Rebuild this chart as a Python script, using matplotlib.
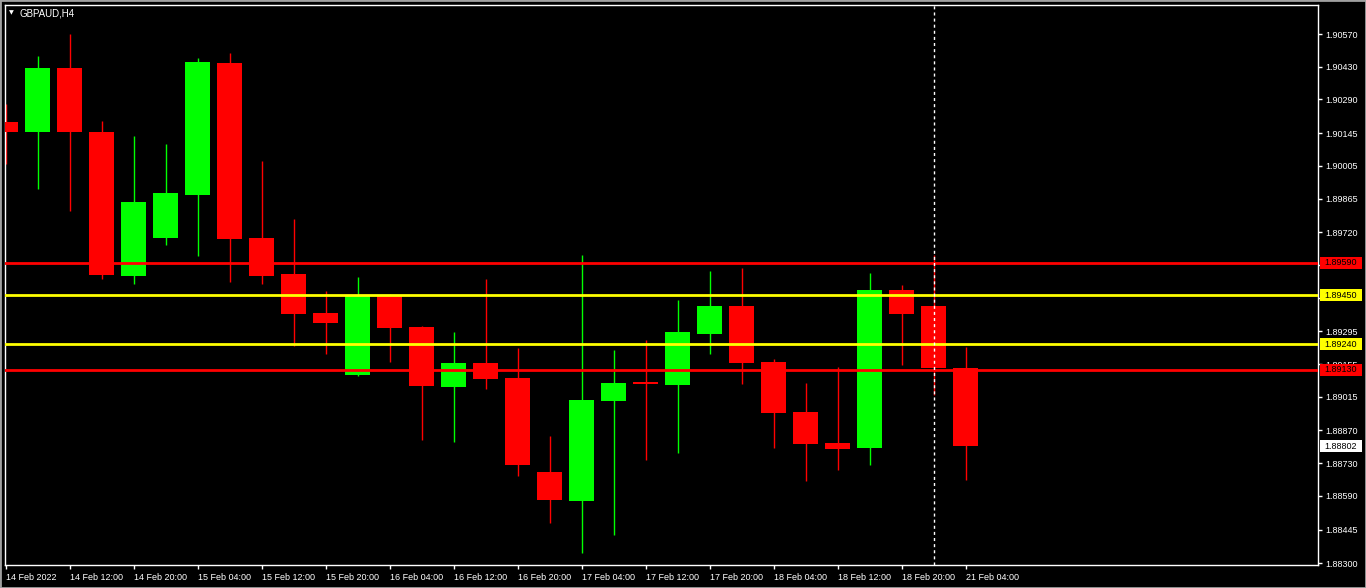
import numpy as np
import matplotlib.pyplot as plt
from matplotlib.patches import Rectangle
from matplotlib.transforms import IdentityTransform

# GBPAUD H4 candles, 14 Feb 04:00 .. 21 Feb 04:00
opens = [1.90193, 1.90150, 1.90425, 1.90150, 1.89533, 1.89696, 1.89880, 1.90446,
         1.89696, 1.89541, 1.89374, 1.89108, 1.89451, 1.89314, 1.89056, 1.89159,
         1.89095, 1.88692, 1.88567, 1.88996, 1.89078, 1.89065, 1.89284, 1.89404,
         1.89164, 1.88949, 1.88816, 1.88795, 1.89472, 1.89404, 1.89138]
highs = [1.90270, 1.90476, 1.90571, 1.90197, 1.90133, 1.90099, 1.90468, 1.90489,
         1.90026, 1.89777, 1.89468, 1.89528, 1.89455, 1.89318, 1.89292, 1.89520,
         1.89224, 1.88846, 1.89623, 1.89215, 1.89258, 1.89430, 1.89554, 1.89567,
         1.89176, 1.89074, 1.89142, 1.89545, 1.89494, 1.89623, 1.89228]
lows = [1.90013, 1.89906, 1.89811, 1.89520, 1.89498, 1.89665, 1.89618, 1.89507,
        1.89498, 1.89232, 1.89198, 1.89104, 1.89164, 1.88829, 1.88820, 1.89048,
        1.88675, 1.88473, 1.88344, 1.88421, 1.88743, 1.88773, 1.89198, 1.89069,
        1.88795, 1.88653, 1.88700, 1.88722, 1.89151, 1.89022, 1.88657]
closes = [1.90150, 1.90425, 1.90150, 1.89537, 1.89850, 1.89889, 1.90451, 1.89691,
          1.89533, 1.89369, 1.89331, 1.89451, 1.89309, 1.89061, 1.89159, 1.89091,
          1.88722, 1.88572, 1.89001, 1.89074, 1.89069, 1.89292, 1.89404, 1.89159,
          1.88945, 1.88812, 1.88790, 1.89472, 1.89369, 1.89138, 1.88802]

# horizontal levels drawn on the chart
levels = [1.89590, 1.89450, 1.89240, 1.89130]
level_colors = ['#ff0000', '#ffff00', '#ffff00', '#ff0000']
last_price = 1.88802

ytick_vals = [1.90570, 1.90430, 1.90290, 1.90145, 1.90005, 1.89865, 1.89720, 1.89580,
              1.89440, 1.89295, 1.89155, 1.89015, 1.88870, 1.88730, 1.88590, 1.88445, 1.88300]
xtick_pos = [0, 2, 4, 6, 8, 10, 12, 14, 16, 18, 20, 22, 24, 26, 28, 30]
xtick_labels = ['14 Feb 2022', '14 Feb 12:00', '14 Feb 20:00', '15 Feb 04:00', '15 Feb 12:00',
                '15 Feb 20:00', '16 Feb 04:00', '16 Feb 12:00', '16 Feb 20:00', '17 Feb 04:00',
                '17 Feb 12:00', '17 Feb 20:00', '18 Feb 04:00', '18 Feb 12:00', '18 Feb 20:00',
                '21 Feb 04:00']
crosshair_bar = 29

plt.rcParams['font.family'] = ['Liberation Sans', 'DejaVu Sans']

W, H = 1366, 588
fig = plt.figure(figsize=(W / 100, H / 100), dpi=100, facecolor='black')
# axes box in pixels: left 5, right 1318, top 5, bottom 565
ax = fig.add_axes([5 / W, (H - 565) / H, (1318 - 5) / W, (565 - 5) / H])
ax.set_facecolor('black')

o = np.array(opens)
c = np.array(closes)
x = np.arange(len(o))
up = c >= o
colors = np.where(up, '#00ff00', '#ff0000')

ax.vlines(x, lows, highs, colors=colors, linewidth=1, zorder=2)
ax.bar(x, np.abs(c - o), bottom=np.minimum(o, c), width=0.78, color=colors,
       linewidth=0, zorder=3)

for lv, col in zip(levels, level_colors):
    ax.axhline(lv, color=col, linewidth=2, zorder=4)

ax.axvline(crosshair_bar, color='white', linewidth=1, linestyle=(0, (2.2, 2.2)), zorder=5)

ax.set_xlim(-0.02, 41.0)
ax.set_ylim(1.88293, 1.90695)

for s in ax.spines.values():
    s.set_color('white')
    s.set_linewidth(1)

ax.yaxis.tick_right()
ax.set_yticks(ytick_vals)
ax.set_yticklabels(['%.5f' % v for v in ytick_vals])
ax.tick_params(axis='y', colors='white', length=3, width=1, pad=2, labelsize=6.5)

ax.set_xticks(xtick_pos)
ax.set_xticklabels(xtick_labels, ha='left')
ax.tick_params(axis='x', colors='white', length=3, width=1, pad=3, labelsize=6.5)

# coloured price labels on the right scale, boxes in pixel coordinates
for lv, col in zip(levels + [last_price], level_colors + ['white']):
    ypx = ax.transData.transform((0, lv))[1]
    fig.patches.append(Rectangle((1320, ypx - 6), 42, 12, transform=IdentityTransform(),
                                 facecolor=col, edgecolor='none', zorder=9))
    fig.text(1324 / W, ypx / H, '%.5f' % lv, fontsize=6.5, color='black',
             va='center', ha='left', zorder=10)

fig.text(20 / W, 1 - 13 / H, 'GBPAUD,H4', color='white', fontsize=7, va='center', ha='left')
fig.text(9 / W, 1 - 13 / H, '▼', color='white', fontsize=4.5, va='center', ha='left',
         family='DejaVu Sans')

fig.patches.append(Rectangle((0, 0), 1, 1, transform=fig.transFigure, fill=False,
                             edgecolor='#a0a0a0', linewidth=2))

fig.savefig('out.png', dpi=100, facecolor='black')
